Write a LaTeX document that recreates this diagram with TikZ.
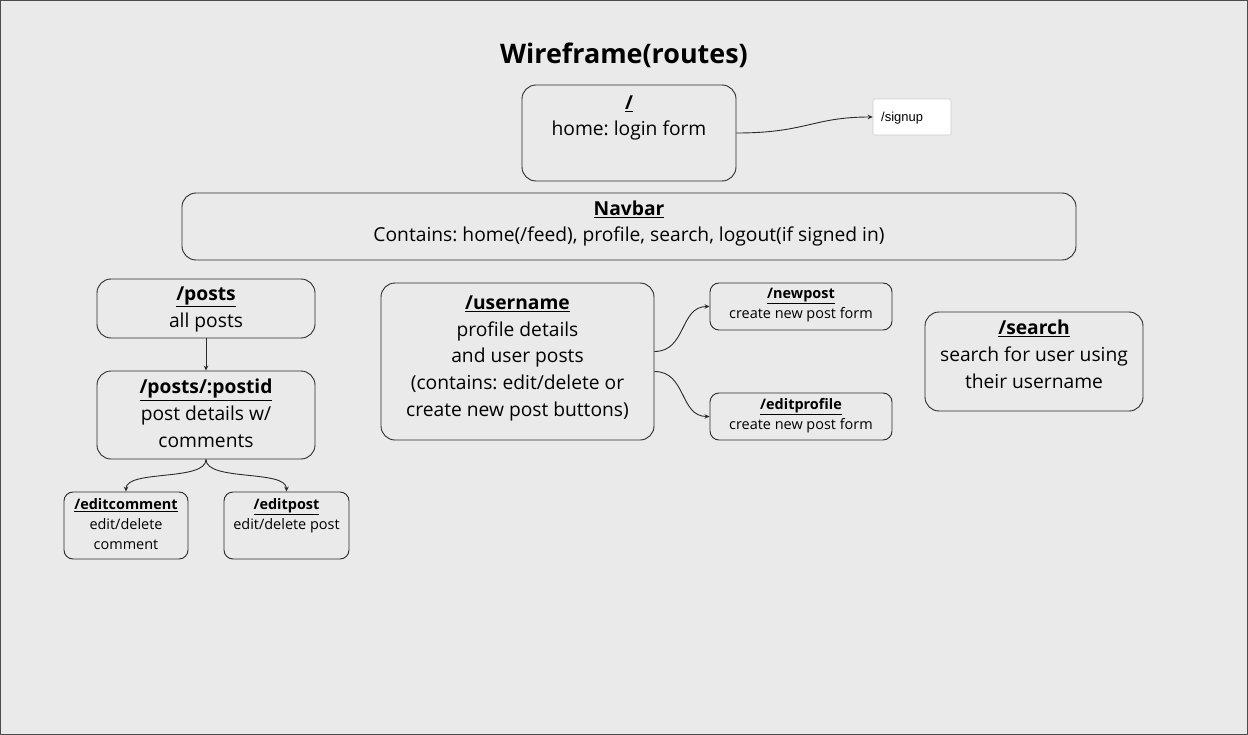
\documentclass[tikz,border=0pt]{standalone}
\usepackage{fontspec}
\setmainfont{Open Sans}
\newfontfamily\uifont{Liberation Sans}
\usepackage{tikz}
\usetikzlibrary{arrows.meta, positioning}

\definecolor{canvas}{HTML}{EAEAEA}
\definecolor{edge}{HTML}{2B2B2B}
\newcommand{\ttl}[1]{\underline{\textbf{#1}}}
\frenchspacing

\begin{document}
\begin{tikzpicture}[
    x=1bp, y=-1bp,
    >={Stealth[length=5bp,width=4.5bp]},
    route/.style={draw=edge, line width=0.9bp, rounded corners=14bp, inner sep=0pt},
    subroute/.style={draw=edge, line width=0.9bp, rounded corners=9bp, inner sep=0pt},
    % base anchor = baseline of the last line
    bigtxt/.style={align=center, anchor=base, inner sep=0pt,
        font=\fontsize{19.3}{26.7}\selectfont},
    smalltxt/.style={align=center, anchor=base, inner sep=0pt,
        font=\fontsize{14.5}{19.8}\selectfont},
    link/.style={->, draw=edge, line width=0.9bp}
]
% canvas and frame
\fill[canvas] (0,0) rectangle (1248,735);
\draw[edge!85, line width=1.5bp] (0.75,0.75) rectangle (1247.25,734.25);
\useasboundingbox (0,0) rectangle (1248,735);
% title
\node[anchor=base, inner sep=0pt, font=\fontsize{27}{30}\selectfont\bfseries] (title) at (624,64) {Wireframe(routes)};
% --- boxes
\node[route, minimum width=214bp, minimum height=96bp] (root) at (629,133) {};
\node[draw=gray!40, fill=white, line width=0.6bp, rounded corners=2bp,
      minimum width=78bp, minimum height=36bp, inner sep=0pt] (signup) at (912,117) {};
\node[route, minimum width=894bp, minimum height=67bp] (navbar) at (629,226.5) {};
\node[route, minimum width=218bp, minimum height=59bp] (posts) at (206,308.5) {};
\node[route, minimum width=218bp, minimum height=88bp] (postid) at (206,415) {};
\node[subroute, minimum width=124bp, minimum height=67bp] (ecomm) at (126,525.5) {};
\node[subroute, minimum width=125bp, minimum height=67bp] (epost) at (286.5,525.5) {};
\node[route, minimum width=273bp, minimum height=157bp] (uname) at (517.5,361.5) {};
\node[subroute, minimum width=182bp, minimum height=47bp] (newpost) at (801,306.5) {};
\node[subroute, minimum width=182bp, minimum height=47bp] (eprofile) at (801,416.5) {};
\node[route, minimum width=218bp, minimum height=99bp] (search) at (1034,361.5) {};
% --- texts
\node[bigtxt] (rootT) at (629,136) {\ttl{/}\\home: login form};
\node[anchor=west, inner sep=0pt, font=\uifont\fontsize{13}{15}\selectfont] (signupT) at (881,118) {/signup};
\node[bigtxt] (navbarT) at (629,242) {\ttl{Navbar}\\Contains: home(/feed), profile, search, logout(if signed in)};
\node[bigtxt] (postsT) at (206,327) {\ttl{/posts}\\all posts};
\node[bigtxt] (postidT) at (206,447) {\ttl{/posts/:postid}\\post details w/\\comments};
\node[smalltxt] (ecommT) at (126,549) {\ttl{/editcomment}\\edit/delete\\comment};
\node[smalltxt] (epostT) at (286.5,529) {\ttl{/editpost}\\edit/delete post};
\node[bigtxt] (unameT) at (517.5,416) {\ttl{/username}\\profile details\\and user posts\\(contains: edit/delete or\\create new post buttons)};
\node[smalltxt] (newpostT) at (801,318) {\ttl{/newpost}\\create new post form};
\node[smalltxt] (eprofileT) at (801,429) {\ttl{/editprofile}\\create new post form};
\node[bigtxt] (searchT) at (1034,388) {\ttl{/search}\\search for user using\\their username};
% --- connectors
\draw[link] (root.east) .. controls +(70,0) and +(-60,0) .. (signup.west);
\draw[link] (posts.south) -- (postid.north);
\draw[link] (postid.south) .. controls +(0,22) and +(0,-22) .. (ecomm.north);
\draw[link] (postid.south) .. controls +(0,22) and +(0,-22) .. (epost.north);
\draw[link] ([yshift=10bp]uname.east) .. controls +(32,0) and +(-30,0) .. (newpost.west);
\draw[link] ([yshift=-10bp]uname.east) .. controls +(32,0) and +(-30,0) .. (eprofile.west);
\end{tikzpicture}
\end{document}
